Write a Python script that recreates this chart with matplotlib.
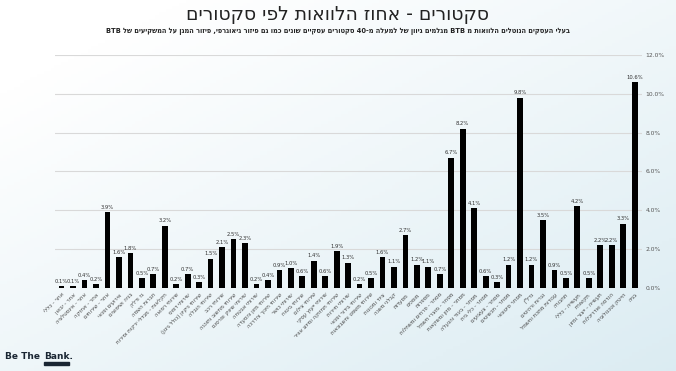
import matplotlib
matplotlib.use("Agg")
import matplotlib.pyplot as plt
import numpy as np
import re

categories = [
    "אחר - כללי", "אחר - יבואן", "אחר - אינסטלציה", "אחר - אחזקה", "אחר - שירותים",
    "אירועים ופנאי", "בניה ושיפוצים", "גז ודלק", "חברות השמה", "חקלאות - מגדלי ירקות ופירות",
    "שירותי רפואה", "שירותי דפוס", "שירותי ניקיון (כולל גינון)", "שירותי הובלה", "שירותי רכב",
    "שירותי מחשוב ותוכנה", "שירותי שיווק ופרסום", "שירותי אבטחה", "שירותי מזון והסעדה", "שירותי חינוך והדרכה",
    "שירותי כושר", "שירותי ביטוח", "שירותי צילום", "שירותי ייעוץ עסקי", "שירותי תחזוקה ומיזוג אוויר",
    "שירותי תיירות", "שירותי בידור ופנאי", "שירותי משפט וחשבונאות", "ציוד ומכונות", "קבלני משנה",
    "מסעדות", "מוסכים", "מספרות", "מסחר - פרחים ומשתלות", "מסחר - מוצרי חשמל",
    "מסחר - מזון ומשקאות", "מסחר - ביגוד והנעלה", "מסחר - כלי בית", "מסחר - צעצועים", "מסחר - תכשיטים",
    "מסחר סיטונאי", "נדל\"ן", "נגרות ורהיטים", "עבודות מתכת וחשמל", "תחבורה",
    "תעשייה - כללי", "תקשורת", "תעשייה - ייצור ומזון", "הנדסה ואדריכלות", "הייטק וטכנולוגיה",
    "בניה",
]
values = [
    0.1, 0.1, 0.4, 0.2, 3.9, 1.6, 1.8, 0.5, 0.7, 3.2,
    0.2, 0.7, 0.3, 1.5, 2.1, 2.5, 2.3, 0.2, 0.4, 0.9,
    1.0, 0.6, 1.4, 0.6, 1.9, 1.3, 0.2, 0.5, 1.6, 1.1,
    2.7, 1.2, 1.1, 0.7, 6.7, 8.2, 4.1, 0.6, 0.3, 1.2,
    9.8, 1.2, 3.5, 0.9, 0.5, 4.2, 0.5, 2.2, 2.2, 3.3,
    10.6,
]
yticks = [0, 2, 4, 6, 8, 10, 12]

title = "סקטורים - אחוז הלוואות לפי סקטורים"
subtitle = ("בעלי העסקים הנוטלים הלוואות מ BTB מגלמים גיוון של למעלה מ-40 סקטורים עסקיים "
            "שונים כמו גם פיזור גיאוגרפי, פיזור המגן על המשקיעים של BTB")

MIRROR = {"(": ")", ")": "(", "[": "]", "]": "["}


def rtl(s):
    runs = re.findall(r"[A-Za-z0-9.%]+|[^A-Za-z0-9.%]+", s)
    out = []
    for r in reversed(runs):
        if re.match(r"[A-Za-z0-9.%]", r):
            out.append(r)
        else:
            out.append("".join(MIRROR.get(c, c) for c in reversed(r)))
    return "".join(out)


plt.rcParams['font.family'] = ['DejaVu Sans']

fig = plt.figure(figsize=(6.76, 3.71), dpi=100)

# gradient background
bg = fig.add_axes([0, 0, 1, 1], zorder=-10)
xx, yy = np.meshgrid(np.linspace(0, 1, 200), np.linspace(0, 1, 120))
t = np.clip(0.55 * xx + 0.6 * yy - 0.15, 0, 1)
c0 = np.array([1.0, 1.0, 1.0])
c1 = np.array([0.86, 0.925, 0.95])
img = c0[None, None, :] * (1 - t[..., None]) + c1[None, None, :] * t[..., None]
bg.imshow(img, aspect='auto', extent=[0, 1, 0, 1], origin='upper')
bg.axis('off')

ax = fig.add_axes([0.081, 0.224, 0.868, 0.628])
ax.set_facecolor('none')
x = np.arange(len(values))
ax.bar(x, values, width=0.5, color='black', zorder=3)
for xi, v in zip(x, values):
    ax.text(xi, v + 0.12, f"{v:.1f}%", ha='center', va='bottom', fontsize=3.8, color='#333333', zorder=4)

ax.set_ylim(0, 12)
ax.set_xlim(-0.6, len(values) - 0.4)
ax.set_yticks(yticks)
ax.set_yticklabels([f"{v:.1f}%" for v in yticks], fontsize=4.3, color='#555555')
ax.yaxis.tick_right()
ax.tick_params(axis='y', length=0, pad=3)
ax.grid(axis='y', color='#d9d9d9', linewidth=0.8, zorder=0)
for s in ax.spines.values():
    s.set_visible(False)
ax.set_xticks(x)
ax.set_xticklabels([rtl(c) for c in categories], rotation=45, ha='right',
                   rotation_mode='anchor', fontsize=4.0, color='#444444')
ax.tick_params(axis='x', length=0, pad=3)

fig.text(0.5, 0.962, rtl(title), ha='center', va='center', fontsize=13.5,
         color='#222222')
fig.text(0.5, 0.915, rtl(subtitle), ha='center', va='center', fontsize=4.8,
         fontweight='bold', color='#222222')

# logo
t1 = fig.text(0.008, 0.033, "Be The", ha='left', va='baseline', fontsize=6.5,
              fontweight='bold', color='#1a2633')
fig.canvas.draw()
r = fig.canvas.get_renderer()
bb = t1.get_window_extent(renderer=r).transformed(fig.transFigure.inverted())
xs = bb.x1 + 0.006
t2 = fig.text(xs, 0.033, "Bank.", ha='left', va='baseline', fontsize=6.5,
              fontweight='bold', color='#1a2633')
bb2 = t2.get_window_extent(renderer=r).transformed(fig.transFigure.inverted())
fig.add_artist(plt.Rectangle((xs, 0.016), (bb2.x1 - xs) * 0.85, 0.009,
                             transform=fig.transFigure, color='#1a2633'))

fig.savefig("out.png", dpi=100)
